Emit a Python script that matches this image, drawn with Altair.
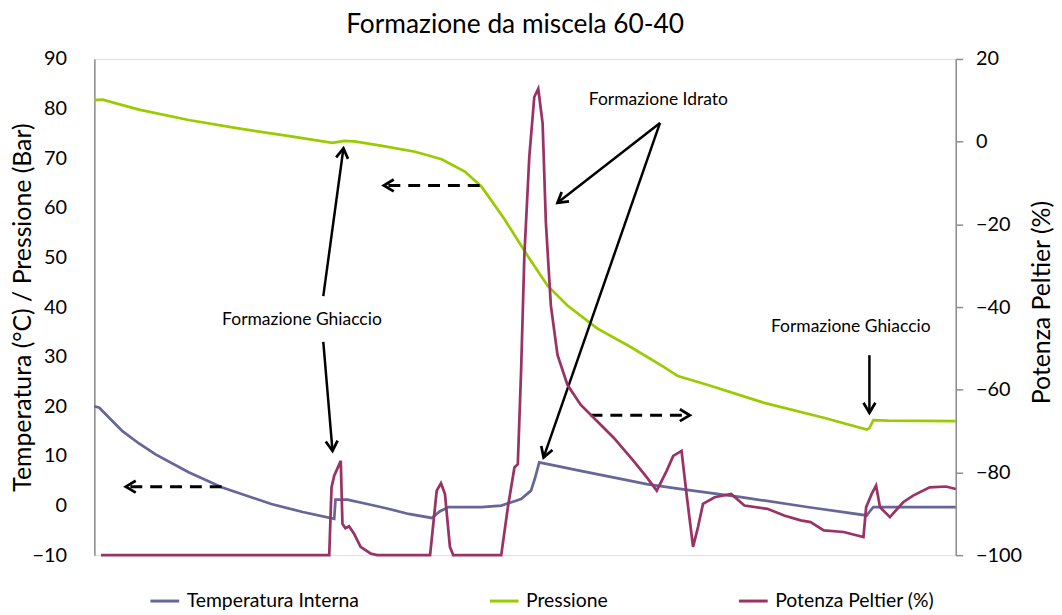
import math
import altair as alt
import pandas as pd

FONT = "Lato"
title_text = "Formazione da miscela 60-40"
series_names = ["Temperatura Interna", "Pressione", "Potenza Peltier (%)"]
series_colors = ["#666699", "#99CC00", "#993366"]

# time index (arbitrary units, the original has no x labels)
temp_t = [0, 5, 28.3, 45, 61.7, 95, 128.3, 178.3, 210, 241.7, 243, 255, 275, 295, 316.7, 340, 348, 356.7,
          390, 410, 430, 440, 444, 448.3, 490, 556.7, 588, 651.7, 718.3, 778.3, 782, 785, 868]
temp_v = [20.0, 19.7, 15.0, 12.5, 10.3, 6.7, 3.7, 0.3, -1.3, -2.7, 1.2, 1.2, 0.3, -0.6, -1.7, -2.5, -1.2, -0.3,
          -0.3, 0.0, 1.3, 3.0, 5.5, 8.7, 7.0, 4.3, 3.4, 1.7, -0.3, -2.0, -1.0, -0.3, -0.3]

press_t = [0, 8.3, 45, 95, 145, 195, 240, 251.7, 262, 290, 323.3, 350, 373.3, 390, 400, 413.3, 436.7, 456.7,
           476.7, 506.7, 540, 573.3, 588, 618.3, 675, 735, 778.3, 781, 785, 800, 868]
press_v = [81.7, 81.8, 79.8, 77.7, 76.0, 74.5, 73.1, 73.5, 73.4, 72.5, 71.3, 69.8, 67.3, 64.3, 61.5, 57.7, 50.3,
           44.3, 40.3, 35.7, 32.0, 28.0, 26.1, 24.3, 20.7, 17.7, 15.3, 15.6, 17.2, 17.1, 17.0]

pelt_t = [6.7, 236.7, 239, 241.7, 248.3, 250, 253, 256.7, 261.7, 268.3, 278.3, 285, 338.3, 345, 349.3, 353.3,
          358.3, 361.7, 410, 416.7, 423.3, 426.7, 430, 433.3, 438.3, 443.3, 447.3, 451.7, 455, 460, 466.7,
          476.7, 490, 506.7, 523.3, 543.3, 556.7, 566.7, 576.7, 583.3, 591.7, 596.7, 603.3, 608.3, 613.3,
          625, 641.7, 655, 678.3, 695, 711.7, 721.7, 735, 755, 775, 777.7, 783.3, 787.7, 791.7, 801.7, 815,
          825, 841.7, 858.3, 868]
pelt_v = [-100, -100, -83.6, -80.8, -77.2, -92.4, -93.5, -93.0, -94.8, -98, -99.6, -100, -100, -84.4, -82.6,
          -85.2, -98, -100, -100, -88.4, -78.8, -78, -55.6, -27.6, -3.6, 10.8, 12.8, 4.4, -19.6, -39.6, -51.6,
          -58.8, -63.6, -67.6, -71.6, -77.2, -81.2, -84.4, -79.6, -76, -74.8, -85.2, -98, -93.2, -87.6,
          -86, -85.2, -88, -88.8, -90.4, -91.6, -92, -94, -94.4, -95.6, -88.4, -85.2, -83.2, -88.4, -90.8, -87.2,
          -85.6, -83.6, -83.4, -84]

left_ticks = list(range(-10, 91, 10))
right_ticks = list(range(-100, 21, 20))
left_title = "Temperatura (°C) / Pressione (Bar)"
right_title = "Potenza Peltier (%)"

# annotations (in time / left-axis units)
label_text = ["Formazione Ghiaccio", "Formazione Idrato", "Formazione Ghiaccio"]
label_t = [209.2, 568.3, 762.2]
label_v = [37.3, 81.7, 36.0]

arrow_t1 = [230.7, 230.7, 570, 570, 781, 388.3, 128.3, 500]
arrow_v1 = [42.2, 33.0, 77.1, 77.1, 30.3, 64.5, 3.8, 18.2]
arrow_t2 = [251, 240, 466.7, 452.7, 781, 291.7, 31.7, 600]
arrow_v2 = [72.0, 11.0, 61.0, 9.7, 18.7, 64.5, 3.8, 18.2]
arrow_dashed = [False, False, False, False, False, True, True, True]

W, H = 868, 500
T_DOMAIN = [0, 868]
L_DOMAIN = [-10, 90]
R_DOMAIN = [-100, 20]

df_left = pd.concat([
    pd.DataFrame({"t": temp_t, "v": temp_v, "serie": series_names[0]}),
    pd.DataFrame({"t": press_t, "v": press_v, "serie": series_names[1]}),
])
df_right = pd.DataFrame({"t": pelt_t, "v": pelt_v, "serie": series_names[2]})

sx = W / (T_DOMAIN[1] - T_DOMAIN[0])
sy = H / (L_DOMAIN[1] - L_DOMAIN[0])
angles = [math.degrees(math.atan2((b - a) * sx, (d - c) * sy)) % 360
          for a, b, c, d in zip(arrow_t1, arrow_t2, arrow_v1, arrow_v2)]
df_arrows = pd.DataFrame({"t1": arrow_t1, "v1": arrow_v1, "t2": arrow_t2, "v2": arrow_v2,
                          "dashed": arrow_dashed, "ang": angles})
df_labels = pd.DataFrame({"t": label_t, "v": label_v, "txt": label_text})

xs = alt.Scale(domain=T_DOMAIN, nice=False, zero=False)
ys_left = alt.Scale(domain=L_DOMAIN, nice=False, zero=False)
ys_right = alt.Scale(domain=R_DOMAIN, nice=False, zero=False)

color = alt.Color("serie:N", scale=alt.Scale(domain=series_names, range=series_colors),
                  legend=alt.Legend(title=None, orient="none", direction="horizontal", legendX=55,
                                    legendY=530, symbolType="stroke", symbolStrokeWidth=3,
                                    symbolSize=841, labelFontSize=19.5, labelFont=FONT, labelColor="black",
                                    columnPadding=125, labelOffset=6, padding=0, labelLimit=0))

left_axis = alt.Axis(values=left_ticks, title=left_title, grid=False, ticks=False, domainColor="#8c8c8c",
                     domainWidth=1.5, labelFontSize=20, titleFontSize=25, titleFontWeight="normal",
                     labelPadding=28, titleX=-72, titleY=H / 2, titleAngle=270, titleBaseline="middle",
                     titleAlign="center", labelColor="black", titleColor="black",
                     labelFont=FONT, titleFont=FONT, labelFlush=False, labelOverlap=False)
right_axis = alt.Axis(values=right_ticks, title=right_title, orient="right", grid=False, ticks=True,
                      tickSize=7, tickColor="#8c8c8c", tickWidth=1.5, domainColor="#8c8c8c", domainWidth=1.5,
                      labelFontSize=20, titleFontSize=25, titleFontWeight="normal", labelPadding=13,
                      titleX=86, titleY=H / 2 - 5, titleAngle=270, titleBaseline="middle", titleAlign="center",
                      labelColor="black", titleColor="black", labelFont=FONT,
                      titleFont=FONT, labelFlush=False, labelOverlap=False)

X = lambda f: alt.X(f, scale=xs, axis=None)
YL = lambda f: alt.Y(f, scale=ys_left, axis=left_axis, title=left_title)

lines_left = alt.Chart(df_left).mark_line(strokeWidth=2.75).encode(
    x=X("t:Q"), y=YL("v:Q"), color=color,
)
solid = alt.Chart(df_arrows).transform_filter("!datum.dashed").mark_rule(
    strokeWidth=2.5, color="black").encode(
    x=X("t1:Q"), x2="t2:Q", y=YL("v1:Q"), y2="v2:Q",
)
dashed = alt.Chart(df_arrows).transform_filter("datum.dashed").mark_rule(
    strokeWidth=3, color="black", strokeDash=[12, 8]).encode(
    x=X("t1:Q"), x2="t2:Q", y=YL("v1:Q"), y2="v2:Q",
)
heads = alt.Chart(df_arrows).mark_point(
    shape="M -0.6 1 L 0 0 L 0.6 1", filled=False, stroke="black", strokeWidth=2.75, size=400,
    opacity=1).encode(
    x=X("t2:Q"), y=YL("v2:Q"), angle=alt.Angle("ang:Q", scale=None),
)
labels = alt.Chart(df_labels).mark_text(font=FONT, fontSize=17.6, color="black", align="center",
                                        baseline="middle").encode(
    x=X("t:Q"), y=YL("v:Q"), text="txt:N",
)

left = alt.layer(lines_left, solid, dashed, heads, labels)

right = alt.Chart(df_right).mark_line(strokeWidth=2.75).encode(
    x=X("t:Q"),
    y=alt.Y("v:Q", scale=ys_right, axis=right_axis, title=right_title),
    color=color,
)

chart = alt.layer(left, right).resolve_scale(y="independent").properties(
    width=W, height=H,
    title=alt.TitleParams(title_text, font=FONT, fontSize=26.5, fontWeight="normal", color="black",
                          anchor="middle", offset=11, dx=-10),
    autosize=alt.AutoSizeParams(type="none"),
    padding={"left": 87, "top": 49, "right": 99, "bottom": 62},
).configure_view(stroke=None).configure(background="white")

chart.save("out.html", embed_options={"renderer": "svg", "actions": False})
